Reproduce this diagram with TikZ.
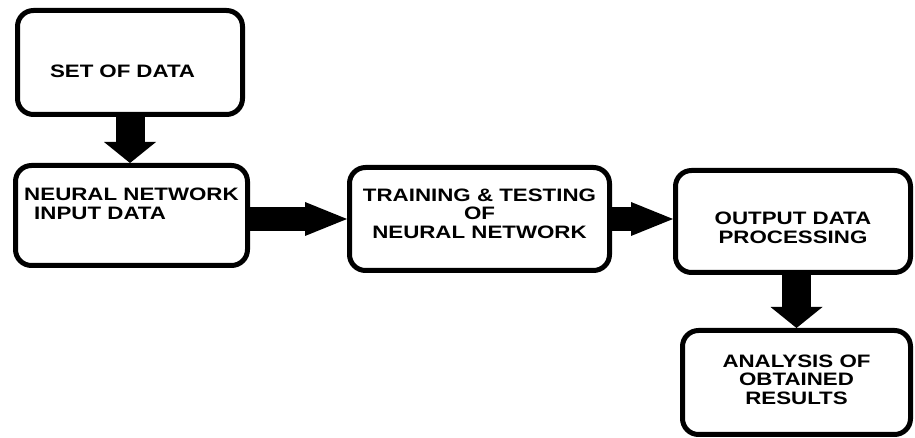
\documentclass[tikz,border=0pt]{standalone}
\usepackage{fontspec}
\newfontfamily\boxfont[FakeStretch=1.24]{Liberation Sans}
\usetikzlibrary{arrows.meta}
\tikzset{
  block/.style={
    rectangle,
    rounded corners=16pt,
    line width=5pt,
    inner sep=0pt,
    align=center,
    draw=black,
    fill=white,
    font=\boxfont\bfseries\fontsize{18pt}{18.5pt}\selectfont
    },
  arrowright/.style={
    line width=24pt,
    -{Triangle[length=42pt, width=34pt, line width=0pt]}
    },
  arrowdown/.style={
    line width=29pt,
    -{Triangle[length=21pt, width=52pt, line width=0pt]}
    }
}
\begin{document}
\begin{tikzpicture}[
  x=1pt, y=1pt,
  node distance=150pt
  ]
\useasboundingbox (0,0) rectangle (915,438);
\node (data) [block, minimum width=225pt, minimum height=104pt, text width=160pt, align=left,
  text height=30pt, text depth=0pt] at (130,375.5) {SET OF DATA};
\node (input) [block, minimum width=232pt, minimum height=100pt, align=left,
  text height=8pt, text depth=0pt, below of=data, yshift=-3pt, xshift=1.5pt]
  {NEURAL NETWORK\\\hspace*{10pt}INPUT DATA};
\node (train) [block, minimum width=260pt, minimum height=103pt,
  text height=39pt, text depth=0pt, right of=input, xshift=198pt, yshift=-3.5pt]
  {TRAINING \& TESTING\\OF\\NEURAL NETWORK};
\node (output) [block, minimum width=235pt, minimum height=102pt,
  text height=44pt, text depth=0pt, right of=train, xshift=163.5pt, yshift=-2.5pt]
  {OUTPUT DATA\\PROCESSING};
\node (results) [block, minimum width=228pt, minimum height=104pt,
  text height=44pt, text depth=0pt, below of=output, yshift=-11pt, xshift=3.5pt]
  {ANALYSIS OF\\OBTAINED\\RESULTS};
\draw[arrowdown] (data.south) -- (data.south |- input.north);
\draw[arrowright] (input.east |- train.west) -- (train.west);
\draw[arrowright] (train.east) -- (train.east -| output.west);
\draw[arrowdown] (results.north |- output.south) -- (results.north);
\end{tikzpicture}
\end{document}
